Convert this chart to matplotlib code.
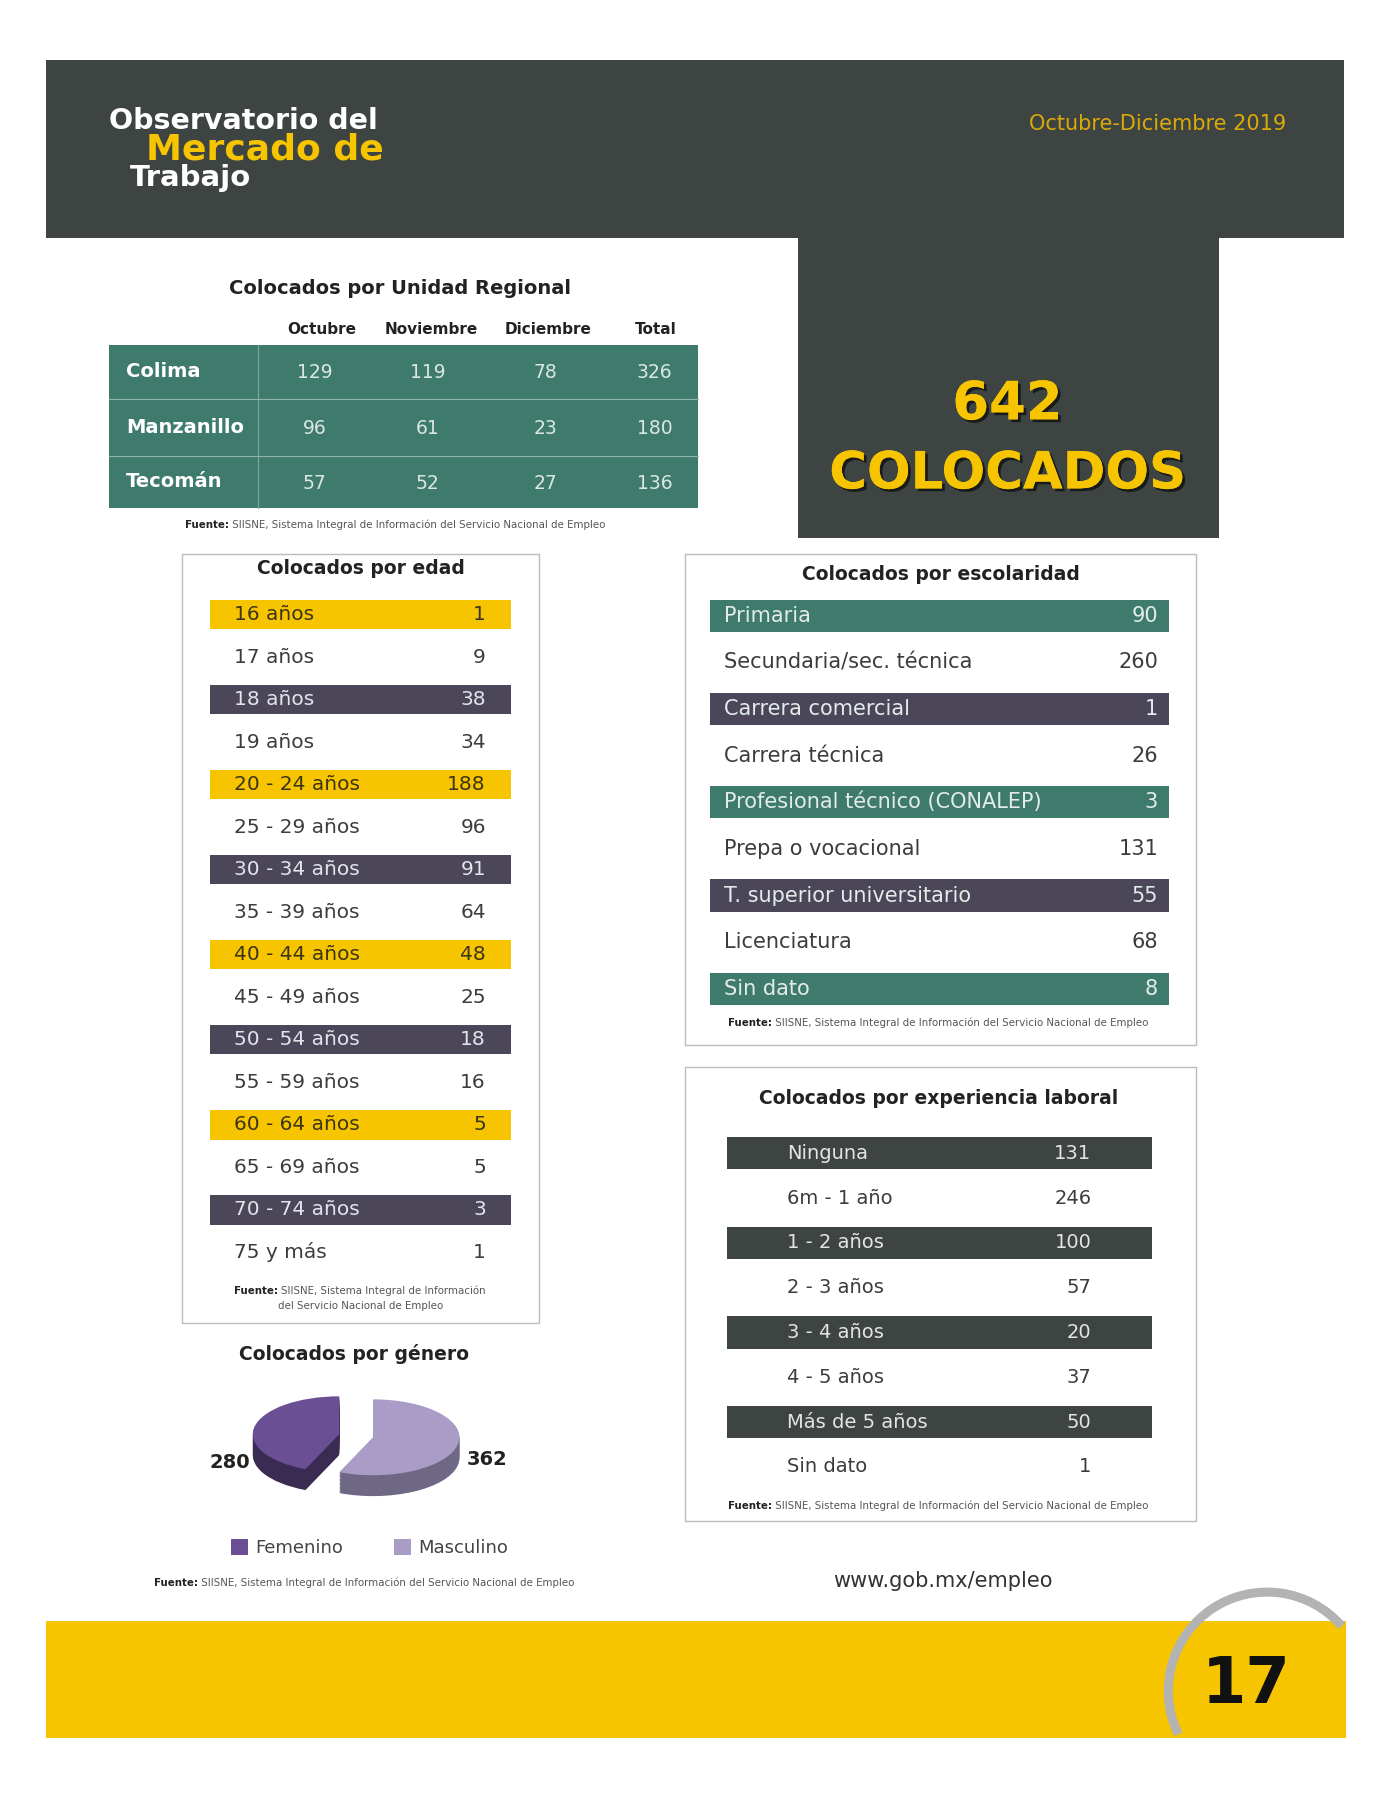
import matplotlib
matplotlib.use("Agg")
import matplotlib.pyplot as plt
import matplotlib.patheffects as pe
from matplotlib.patches import Rectangle, Arc
import numpy as np

# ---- data ----
regiones = ["Colima", "Manzanillo", "Tecomán"]
meses = ["Octubre", "Noviembre", "Diciembre", "Total"]
octubre = [129, 96, 57]
noviembre = [119, 61, 52]
diciembre = [78, 23, 27]
total_region = [326, 180, 136]
total_colocados = 642

edades = ["16 años", "17 años", "18 años", "19 años", "20 - 24 años", "25 - 29 años",
          "30 - 34 años", "35 - 39 años", "40 - 44 años", "45 - 49 años", "50 - 54 años",
          "55 - 59 años", "60 - 64 años", "65 - 69 años", "70 - 74 años", "75 y más"]
edad_vals = [1, 9, 38, 34, 188, 96, 91, 64, 48, 25, 18, 16, 5, 5, 3, 1]

escolaridad = ["Primaria", "Secundaria/sec. técnica", "Carrera comercial", "Carrera técnica",
               "Profesional técnico (CONALEP)", "Prepa o vocacional",
               "T. superior universitario", "Licenciatura", "Sin dato"]
escolaridad_vals = [90, 260, 1, 26, 3, 131, 55, 68, 8]

experiencia = ["Ninguna", "6m - 1 año", "1 - 2 años", "2 - 3 años", "3 - 4 años",
               "4 - 5 años", "Más de 5 años", "Sin dato"]
experiencia_vals = [131, 246, 100, 57, 20, 37, 50, 1]

genero = ["Femenino", "Masculino"]
genero_vals = [280, 362]

FUENTE = "SIISNE, Sistema Integral de Información del Servicio Nacional de Empleo"

# ---- style ----
DARK = "#3d4442"
TEAL = "#3e7b6c"
YELLOW = "#f6c500"
PURPLE = "#4b4759"
TXT = "#3c3c3c"
plt.rcParams["font.family"] = ["DejaVu Sans"]

W, H = 1210, 1567
fig = plt.figure(figsize=(13.9, 18), dpi=100)
ax = fig.add_axes([0, 0, 1, 1])
ax.set_xlim(0, W)
ax.set_ylim(H, 0)
ax.axis("off")


def txt(x, y, s, size, color=TXT, weight="normal", ha="left", **kw):
    return ax.text(x, y, s, fontsize=size, color=color, fontweight=weight,
                   ha=ha, va="center", **kw)


def fuente(x, y, rest=FUENTE, size=7.4):
    t = ax.text(x, y, "Fuente:", fontsize=size, fontweight="bold", color="#222222",
                va="center", ha="left")
    ax.annotate(" " + rest, xy=(1, 0), xycoords=t, va="bottom", ha="left",
                fontsize=size, color="#555555")


# header
ax.add_patch(Rectangle((40, 52), 1130, 155, color=DARK, lw=0))
ax.add_patch(Rectangle((695, 206), 366, 262, color=DARK, lw=0))
txt(95, 105, "Observatorio del", 20.5, "white", "bold")
txt(127, 130, "Mercado de", 26, YELLOW, "bold")
txt(113, 155, "Trabajo", 21, "white", "bold")
txt(1120, 108, "Octubre-Diciembre 2019", 15, "#dcaa08", ha="right")

shadow = [pe.withSimplePatchShadow(offset=(2, -2), shadow_rgbFace="black", alpha=0.6),
          pe.Normal()]
txt(877, 352, str(total_colocados), 38, YELLOW, "bold", ha="center", path_effects=shadow)
txt(877, 413, "COLOCADOS", 37, YELLOW, "bold", ha="center", path_effects=shadow)

# unidad regional table
txt(348, 251, "Colocados por Unidad Regional", 14, "#222222", "semibold", ha="center")
col_x = [280, 375, 477, 571]
for cx, m in zip(col_x, meses):
    txt(cx, 287, m, 11, "#222222", "bold", ha="center")
row_edges = [300, 347, 397, 442]
ax.add_patch(Rectangle((95, 300), 513, 142, color=TEAL, lw=0))
ax.plot([225, 225], [300, 442], color="#7fa89d", lw=0.8)
for yy in row_edges[1:-1]:
    ax.plot([95, 608], [yy, yy], color="#8fb5aa", lw=0.8)
val_x = [274, 372, 475, 570]
for i, reg in enumerate(regiones):
    yc = (row_edges[i] + row_edges[i + 1]) / 2
    txt(110, yc, reg, 14, "white", "bold")
    for vx, v in zip(val_x, [octubre[i], noviembre[i], diciembre[i], total_region[i]]):
        txt(vx, yc + 1, str(v), 13.5, "#dbe7e3", ha="center")
fuente(161, 457)

# edad
ax.add_patch(Rectangle((158, 482), 311, 670, fc="none", ec="#bcbcbc", lw=1))
txt(314, 495, "Colocados por edad", 13.5, "#222222", "semibold", ha="center")
edad_cols = [YELLOW, None, PURPLE, None]
for i, (lab, v) in enumerate(zip(edades, edad_vals)):
    yc = 535 + i * 37
    c = edad_cols[i % 4]
    fc = TXT
    if c is not None:
        ax.add_patch(Rectangle((183, yc - 13), 262, 26, color=c, lw=0))
        fc = "#3d3416" if c == YELLOW else "#e4e4ea"
    txt(204, yc, lab, 14.5, fc)
    txt(423, yc, str(v), 14.5, fc, ha="right")
ax.text(204, 1124, "Fuente:", fontsize=7.4, fontweight="bold", color="#222222", va="center")
ax.text(245, 1124, "SIISNE, Sistema Integral de Información", fontsize=7.4, color="#555555",
        va="center")
txt(314, 1137, "del Servicio Nacional de Empleo", 7.4, "#555555", ha="center")

# genero (3D-looking pie: stacked darker layers under the top face)
txt(308, 1179, "Colocados por género", 13.5, "#222222", "semibold", ha="center")
pax = fig.add_axes([195 / W, 1 - 1315 / H, 230 / W, 110 / H])
top_cols = ["#6b4f94", "#a99cc6"]
side_cols = ["#3a2b52", "#6f6884"]
explode = [0.2, 0.2]
for k in np.linspace(-0.55, -0.02, 16):
    pax.pie(genero_vals, colors=side_cols, startangle=90, explode=explode,
            center=(0, k), wedgeprops=dict(linewidth=0))
pax.pie(genero_vals, colors=top_cols, startangle=90, explode=explode,
        wedgeprops=dict(linewidth=0))
pax.set_aspect("auto")
pax.set_xlim(-1.53, 1.53)
pax.set_ylim(-1.97, 1.36)
pax.axis("off")
txt(200, 1273, str(genero_vals[0]), 14, "#222222", "bold", ha="center")
txt(424, 1271, str(genero_vals[1]), 14, "#222222", "bold", ha="center")
leg_x = [201, 343]
for lx, lab, c in zip(leg_x, genero, top_cols):
    ax.add_patch(Rectangle((lx, 1340), 15, 14, color=c, lw=0))
    txt(lx + 21, 1348, lab, 13, "#444444")
fuente(134, 1378)

# escolaridad
ax.add_patch(Rectangle((596, 482), 445, 428, fc="none", ec="#bcbcbc", lw=1))
txt(819, 500, "Colocados por escolaridad", 13.5, "#222222", "semibold", ha="center")
esc_cols = [TEAL, None, PURPLE, None]
for i, (lab, v) in enumerate(zip(escolaridad, escolaridad_vals)):
    yc = 536 + i * 40.6
    c = esc_cols[i % 4]
    fc = TXT
    if c is not None:
        ax.add_patch(Rectangle((618, yc - 14), 400, 28, color=c, lw=0))
        fc = "#e4ecea"
    txt(630, yc, lab, 15, fc)
    txt(1008, yc, str(v), 15, fc, ha="right")
fuente(634, 891)

# experiencia
ax.add_patch(Rectangle((596, 929), 445, 395, fc="none", ec="#bcbcbc", lw=1))
txt(817, 956, "Colocados por experiencia laboral", 13.5, "#222222", "semibold", ha="center")
for i, (lab, v) in enumerate(zip(experiencia, experiencia_vals)):
    yc = 1004 + i * 39
    fc = TXT
    if i % 2 == 0:
        ax.add_patch(Rectangle((633, yc - 14), 370, 28, color=DARK, lw=0))
        fc = "#e4e4e4"
    txt(685, yc, lab, 14, fc)
    txt(950, yc, str(v), 14, fc, ha="right")
fuente(634, 1311)

txt(821, 1376, "www.gob.mx/empleo", 15, "#333333", ha="center")

# footer
ax.add_patch(Rectangle((40, 1411), 1132, 102, color=YELLOW, lw=0))
ax.add_patch(Arc((1103, 1472), 172, 172, theta1=154, theta2=319, color="#b3b3b3", lw=6.5))
txt(1085, 1467, "17", 46, "#111111", "bold", ha="center")

fig.savefig("out.png", dpi=100, facecolor="white")
